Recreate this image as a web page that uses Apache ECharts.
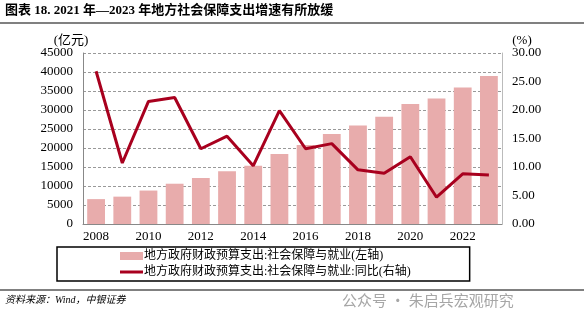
<!DOCTYPE html>
<html><head><meta charset="utf-8">
<script src="https://cdn.jsdelivr.net/npm/echarts@6/dist/echarts.min.js"></script>
<style>html,body{margin:0;padding:0;background:#fff}#c{width:584px;height:324px}</style>
</head><body><div id="c"></div>
<script>
const years = ['2008','2009','2010','2011','2012','2013','2014','2015','2016','2017','2018','2019','2020','2021','2022','2023'];
const spending = [6550, 7200, 8800, 10600, 12100, 13850, 15350, 18400, 20800, 23700, 25900, 28250, 31600, 33000, 35900, 38950];
const growth = [26.8, 10.7, 21.5, 22.2, 13.2, 15.4, 10.2, 19.9, 13.2, 14.1, 9.5, 8.9, 11.8, 4.7, 8.8, 8.6];
const leftTicks = {min: 0, max: 45000, interval: 5000};
const rightTicks = {min: 0, max: 30, interval: 5};
const barName = '地方政府财政预算支出:社会保障与就业(左轴)';
const lineName = '地方政府财政预算支出:社会保障与就业:同比(右轴)';
const titleText = '图表 18. 2021 年—2023 年地方社会保障支出增速有所放缓';
const sourceText = '资料来源：Wind，中银证券';
const watermark = '公众号 · 朱启兵宏观研究';

const serif = '"Liberation Serif", "Times New Roman", "Noto Sans CJK SC", serif';
const chart = echarts.init(document.getElementById('c'), null, {renderer: 'canvas'});
chart.setOption({
  animation: false,
  backgroundColor: '#fff',
  grid: {left: 83, right: 82, top: 53, bottom: 100},
  graphic: [
    {type: 'text', left: 5, top: 4, style: {text: titleText, font: 'bold 13px "Liberation Serif", "Noto Sans CJK SC", serif', fill: '#000'}},
    {type: 'rect', shape: {x: 0, y: 22, width: 584, height: 2}, style: {fill: '#808080'}},
    {type: 'rect', shape: {x: 0, y: 289, width: 584, height: 2}, style: {fill: '#808080'}},
    {type: 'text', left: 5, top: 295, style: {text: sourceText, font: 'italic 10px "Liberation Serif", "Noto Sans CJK SC", serif', fill: '#000'}},
    {type: 'text', left: 342, top: 293, style: {text: watermark, font: '15px "Noto Sans CJK SC", sans-serif', fill: '#a6a6a6'}}
  ],
  legend: {
    orient: 'vertical', left: 57, top: 247,
    padding: [3, 59, 3, 63], itemGap: 4,
    borderColor: '#000', borderWidth: 1.5,
    itemWidth: 23, itemHeight: 8,
    textStyle: {fontFamily: serif, fontSize: 12, color: '#000', padding: [0, 0, 0, -4]},
    data: [
      {name: barName, icon: 'rect'},
      {name: lineName, icon: 'path://M0,0 H23 V3 H0 Z'}
    ]
  },
  xAxis: {
    type: 'category', data: years, boundaryGap: true,
    axisLine: {lineStyle: {color: '#888', width: 1}},
    axisTick: {interval: 1, length: 5, lineStyle: {color: '#888'}},
    axisLabel: {interval: 1, fontFamily: serif, fontSize: 13, color: '#000', margin: 6}
  },
  yAxis: [
    {type: 'value', ...leftTicks, name: '(亿元)', nameGap: 6,
     nameTextStyle: {fontFamily: serif, fontSize: 13, color: '#000', align: 'center', padding: [0, 24, 0, 0]},
     axisLine: {show: true, lineStyle: {color: '#888'}}, axisTick: {show: false},
     axisLabel: {fontFamily: serif, fontSize: 13, color: '#000', margin: 10, formatter: v => String(v)},
     splitLine: {show: true, lineStyle: {color: '#999', type: [3, 2], width: 1}}},
    {type: 'value', ...rightTicks, name: '(%)', nameGap: 6,
     nameTextStyle: {fontFamily: serif, fontSize: 13, color: '#000', align: 'center', padding: [0, 0, 0, 40]},
     axisLine: {show: true, lineStyle: {color: '#bbb'}}, axisTick: {show: false},
     axisLabel: {fontFamily: serif, fontSize: 13, color: '#000', margin: 10, formatter: v => v.toFixed(2)},
     splitLine: {show: false}}
  ],
  series: [
    {name: barName, type: 'bar', data: spending, yAxisIndex: 0, barWidth: '68%',
     itemStyle: {color: '#E8ACAC'}},
    {name: lineName, type: 'line', data: growth, yAxisIndex: 1, symbol: 'none',
     lineStyle: {color: '#A8001E', width: 3}, itemStyle: {color: '#A8001E'}}
  ]
});
</script></body></html>
